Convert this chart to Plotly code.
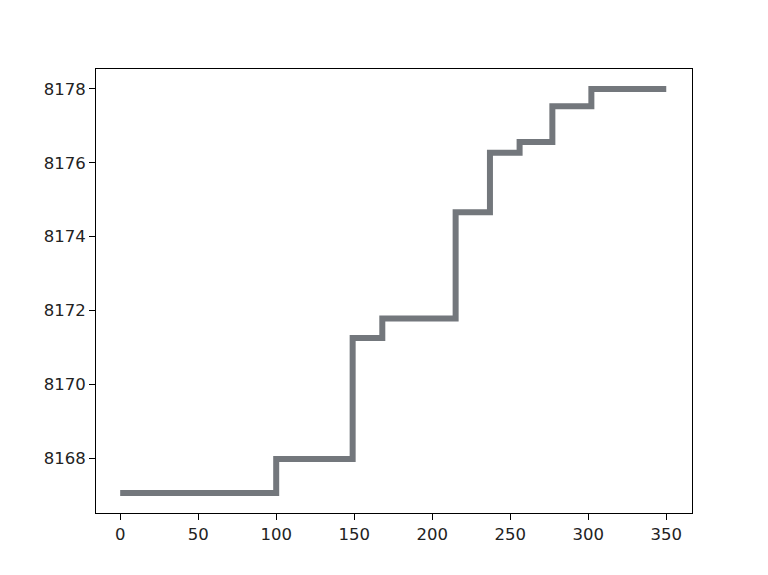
import plotly.graph_objects as go

# step start positions and levels
step_x = [0, 100, 149, 168, 215, 237, 256, 277, 302, 350]
step_y = [8167.05, 8167.97, 8171.25, 8171.78, 8174.66, 8176.27, 8176.56, 8177.53, 8178.0, 8178.0]

x_ticks = [0, 50, 100, 150, 200, 250, 300, 350]
y_ticks = [8168, 8170, 8172, 8174, 8176, 8178]

fig = go.Figure()
fig.add_trace(go.Scatter(
    x=step_x, y=step_y, mode="lines", line_shape="hv",
    line=dict(color="rgb(115,119,124)", width=6),
    showlegend=False, hoverinfo="skip",
))

axis_common = dict(
    showgrid=False, zeroline=False, showline=True, mirror=True,
    linecolor="black", linewidth=1,
    ticks="outside", ticklen=6, tickwidth=1.3, tickcolor="black",
    tickfont=dict(family="DejaVu Sans", size=16.5, color="#222"),
)

fig.update_layout(
    width=768, height=575,
    margin=dict(l=96, r=76, t=69, b=62),
    paper_bgcolor="white", plot_bgcolor="white",
    xaxis=dict(range=[-15.5, 366.5], tickvals=x_ticks, **axis_common),
    yaxis=dict(range=[8166.51, 8178.54], tickvals=y_ticks, **axis_common),
)

fig.write_html("out.html", config={"displayModeBar": False},
               post_script="document.body.style.margin='0';")
